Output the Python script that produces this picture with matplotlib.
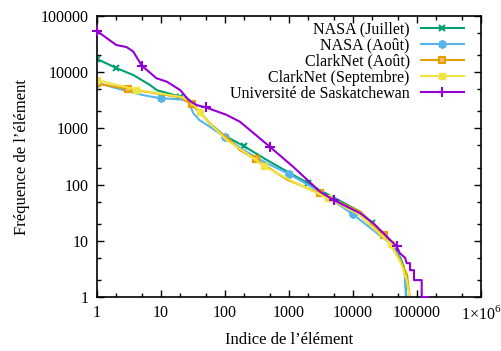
import matplotlib
matplotlib.use("Agg")
import matplotlib.pyplot as plt
import matplotlib.ticker as mticker

plt.rcParams['font.family'] = ['Liberation Serif', 'DejaVu Serif']
plt.rcParams['mathtext.fontset'] = 'custom'
plt.rcParams['mathtext.rm'] = 'Liberation Serif'

# NASA (Juillet)
nasa_jul_x = [1, 2, 3.7, 6.7, 8.6, 20, 28, 40, 58, 94, 200, 450, 900, 2000, 3000,
              12900, 20000, 40000, 55000, 62000, 66000, 68000]
nasa_jul_y = [17200, 11900, 8900, 5940, 4800, 3660, 3200, 1980, 1230, 765, 480, 274, 175, 105, 80,
              33, 20.5, 9, 5, 3.5, 2, 1]
nasa_jul_marks = [0, 1, 5, 10, 13, 16]

# NASA (Août)
nasa_aug_x = [1, 2, 5.3, 10, 20, 27, 32, 40, 58, 100, 193, 448, 1000, 3040, 10000,
              38000, 53000, 65000, 67000]
nasa_aug_y = [6500, 5200, 3900, 3430, 3300, 2990, 1860, 1400, 1070, 695, 413, 240, 155, 75, 29.6,
              9, 5.2, 2.6, 1]
nasa_aug_marks = [0, 3, 9, 12, 14]

# ClarkNet (Août)
clark_aug_x = [1, 3, 8.5, 20, 30, 46, 74, 120, 170, 300, 915, 3000, 12900, 30000,
               53000, 70000, 77000]
clark_aug_y = [6300, 5000, 4200, 3560, 2700, 1620, 935, 620, 413, 283, 124, 70, 33, 12.7,
               4.9, 2.5, 1]
clark_aug_marks = [0, 1, 4, 9, 11, 13]

# ClarkNet (Septembre)
clark_sep_x = [1, 4, 20, 30, 36, 40, 58, 106, 218, 400, 1160, 4000, 12000, 39000,
               57600, 69000, 77000]
clark_sep_y = [7300, 4900, 3660, 2990, 2280, 1950, 1230, 620, 360, 215, 113, 58, 30, 8.7,
               3.7, 2, 1]
clark_sep_marks = [0, 1, 5, 9, 11, 13]

# Université de Saskatchewan
usask_x = [1, 2, 2.9, 3.7, 5, 8.5, 12.3, 20, 27, 36, 50, 106, 170, 245, 500, 1160, 3040, 5000,
           12900, 20900, 48000, 54000, 65000, 69000, 77800, 77800, 89700, 89700, 118400, 118400, 150000]
usask_y = [54000, 30500, 28000, 23200, 13100, 7800, 6800, 4800, 3200, 2600, 2370, 1740, 1320, 935,
           473, 208, 75, 53, 31, 20.5, 8, 6, 5, 4, 4, 3, 3, 2, 2, 1, 1]
usask_marks = [0, 4, 10, 14, 17, 20]

x_ticks = [1, 10, 100, 1000, 10000, 100000, 1000000]
x_tick_labels = ['1', '10', '100', '1000', '10000', '100000', r'$1{\times}10^6$']
y_ticks = [1, 10, 100, 1000, 10000, 100000]
y_tick_labels = ['1', '10', '100', '1000', '10000', '100000']

fig = plt.figure(figsize=(5.02, 3.51), dpi=100)
ax = fig.add_axes([0.1932, 0.1538, 0.7650, 0.8006])

lw = 1.5
ax.plot(nasa_jul_x, nasa_jul_y, color='#009e73', lw=lw, marker='x', ms=5, mew=1.5,
        markevery=nasa_jul_marks, label='NASA (Juillet)')
ax.plot(nasa_aug_x, nasa_aug_y, color='#56b4e9', lw=lw, marker=(8, 2, 0), ms=6, mew=1.5,
        markevery=nasa_aug_marks, label='NASA (Août)')
ax.plot(clark_aug_x, clark_aug_y, color='#e69f00', lw=lw, marker='s', ms=5, mew=1.5,
        mfc='#f0c060', markevery=clark_aug_marks, label='ClarkNet (Août)')
ax.plot(clark_sep_x, clark_sep_y, color='#f0e442', lw=lw, marker='s', ms=5,
        markevery=clark_sep_marks, label='ClarkNet (Septembre)')
ax.plot(usask_x, usask_y, color='#9400d3', lw=lw, marker='+', ms=7, mew=1.5,
        markevery=usask_marks, label='Université de Saskatchewan', clip_on=False, zorder=3)

ax.set_xscale('log')
ax.set_yscale('log')
ax.set_xlim(1, 1e6)
ax.set_ylim(1, 1e5)
ax.set_xticks(x_ticks)
ax.set_xticklabels(x_tick_labels)
ax.set_yticks(y_ticks)
ax.set_yticklabels(y_tick_labels)
ax.xaxis.set_minor_locator(mticker.LogLocator(base=10, subs=(2, 5)))
ax.yaxis.set_minor_locator(mticker.LogLocator(base=10, subs=(2, 5)))
ax.xaxis.set_minor_formatter(mticker.NullFormatter())
ax.yaxis.set_minor_formatter(mticker.NullFormatter())
ax.tick_params(which='both', direction='in', top=True, right=True, labelsize=11.5, width=1)
ax.tick_params(which='major', length=5, pad=6)
ax.tick_params(which='minor', length=3)
for s in ax.spines.values():
    s.set_linewidth(1.2)

ax.set_xlabel('Indice de l’élément', fontsize=12, labelpad=6)
ax.set_ylabel('Fréquence de l’élément', fontsize=12, labelpad=8)

ax.legend(loc='upper right', frameon=False, markerfirst=False, fontsize=11.5,
          handlelength=2.7, labelspacing=0.0, borderaxespad=0.0, borderpad=0.1,
          handletextpad=0.7, bbox_to_anchor=(0.96, 0.986))

fig.savefig('out.png', dpi=100)
